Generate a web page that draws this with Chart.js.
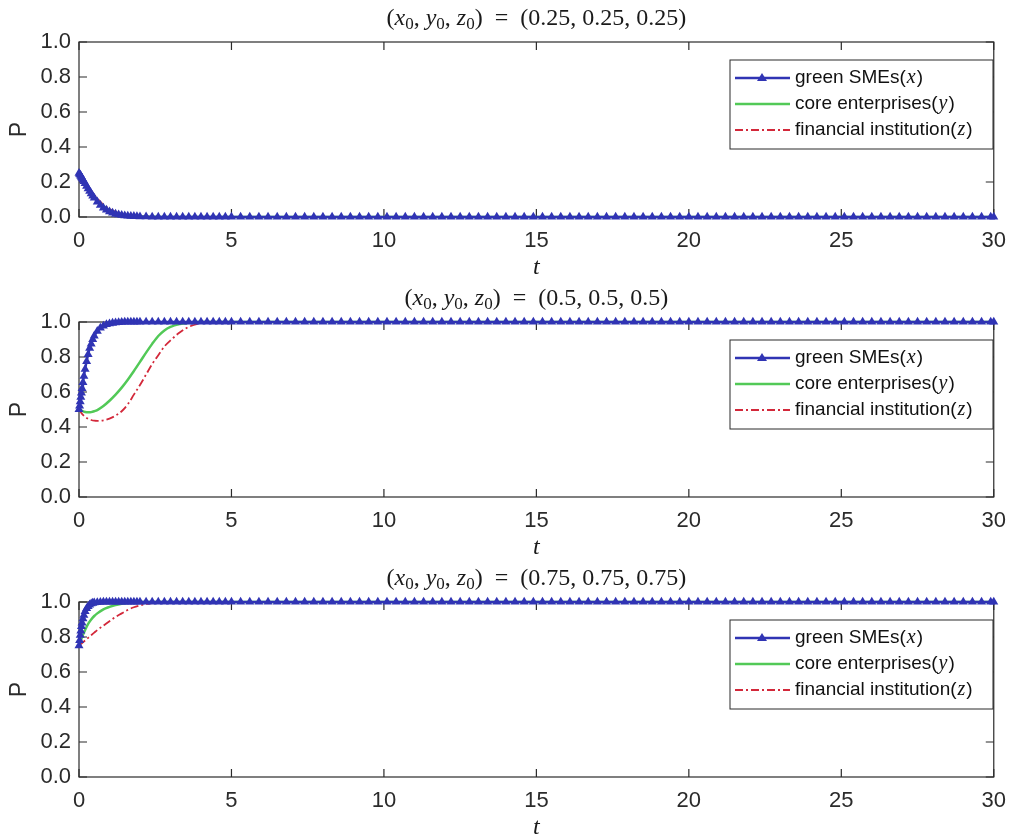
<!DOCTYPE html>
<html>
<head>
<title>Evolution paths</title>
<script src="https://cdn.jsdelivr.net/npm/chart.js@4.4.0/dist/chart.umd.min.js"></script>
<style>
    body { margin: 0; background: #fff; width: 1017px; height: 839px; overflow: hidden; position: relative; }
    canvas { position: absolute; left: 0; }
</style>
</head>
<body>
<canvas id="p1" width="1017" height="280" style="top:0px"></canvas>
<canvas id="p2" width="1017" height="280" style="top:280px"></canvas>
<canvas id="p3" width="1017" height="280" style="top:560px"></canvas>

<script>
    // series names and initial points of the three panels
    var seriesNames = ['green SMEs(x)', 'core enterprises(y)', 'financial institution(z)'];
    var startValues = ['0.25', '0.5', '0.75'];
    var xTickValues = [0, 5, 10, 15, 20, 25, 30];
    var yTickValues = [0, 0.2, 0.4, 0.6, 0.8, 1.0];

    // time steps of the solver output (markers of the x series)
    var tBlue = [
        0, 0.02, 0.04, 0.06, 0.08, 0.1, 0.13, 0.16, 0.2, 0.25,
        0.3, 0.35, 0.4, 0.45, 0.5, 0.6, 0.7, 0.8, 0.9, 1.0,
        1.1, 1.2, 1.3, 1.4, 1.5, 1.6, 1.7, 1.8, 1.9, 2.0,
        2.2, 2.4, 2.6, 2.8, 3.0, 3.2, 3.4, 3.6, 3.8, 4.0,
        4.2, 4.4, 4.6, 4.8, 5.0,
        5.3, 5.6, 5.9, 6.2, 6.5, 6.8, 7.1, 7.4, 7.7, 8.0,
        8.3, 8.6, 8.9, 9.2, 9.5, 9.8, 10.1, 10.4, 10.7, 11.0,
        11.3, 11.6, 11.9, 12.2, 12.5, 12.8, 13.1, 13.4, 13.7, 14.0,
        14.3, 14.6, 14.9, 15.2, 15.5, 15.8, 16.1, 16.4, 16.7, 17.0,
        17.3, 17.6, 17.9, 18.2, 18.5, 18.8, 19.1, 19.4, 19.7, 20.0,
        20.3, 20.6, 20.9, 21.2, 21.5, 21.8, 22.1, 22.4, 22.7, 23.0,
        23.3, 23.6, 23.9, 24.2, 24.5, 24.8, 25.1, 25.4, 25.7, 26.0,
        26.3, 26.6, 26.9, 27.2, 27.5, 27.8, 28.1, 28.4, 28.7, 29.0,
        29.3, 29.6, 29.9, 30.0
    ];

    // x (green SMEs) in the three panels
    var blueA = [
        0.25, 0.245, 0.24, 0.234, 0.228, 0.222, 0.213, 0.204, 0.192, 0.177,
        0.162, 0.148, 0.134, 0.121, 0.109, 0.087, 0.068, 0.052, 0.040, 0.030,
        0.023, 0.017, 0.013, 0.010, 0.008, 0.006, 0.005, 0.004, 0.003, 0.002,
        0.0015, 0.001, 0.001, 0.0005, 0.0005, 0, 0, 0, 0, 0,
        0, 0, 0, 0, 0,
        0, 0, 0, 0, 0, 0, 0, 0, 0, 0,
        0, 0, 0, 0, 0, 0, 0, 0, 0, 0,
        0, 0, 0, 0, 0, 0, 0, 0, 0, 0,
        0, 0, 0, 0, 0, 0, 0, 0, 0, 0,
        0, 0, 0, 0, 0, 0, 0, 0, 0, 0,
        0, 0, 0, 0, 0, 0, 0, 0, 0, 0,
        0, 0, 0, 0, 0, 0, 0, 0, 0, 0,
        0, 0, 0, 0, 0, 0, 0, 0, 0, 0,
        0, 0, 0, 0
    ];
    var blueB = [
        0.5, 0.52, 0.545, 0.57, 0.595, 0.62, 0.655, 0.69, 0.73, 0.775,
        0.815, 0.85, 0.875, 0.9, 0.92, 0.948, 0.966, 0.978, 0.986, 0.991,
        0.994, 0.996, 0.998, 0.999, 1, 1, 1, 1, 1, 1,
        1, 1, 1, 1, 1, 1, 1, 1, 1, 1,
        1, 1, 1, 1, 1,
        1, 1, 1, 1, 1, 1, 1, 1, 1, 1,
        1, 1, 1, 1, 1, 1, 1, 1, 1, 1,
        1, 1, 1, 1, 1, 1, 1, 1, 1, 1,
        1, 1, 1, 1, 1, 1, 1, 1, 1, 1,
        1, 1, 1, 1, 1, 1, 1, 1, 1, 1,
        1, 1, 1, 1, 1, 1, 1, 1, 1, 1,
        1, 1, 1, 1, 1, 1, 1, 1, 1, 1,
        1, 1, 1, 1, 1, 1, 1, 1, 1, 1,
        1, 1, 1, 1
    ];
    var blueC = [
        0.75, 0.78, 0.81, 0.835, 0.86, 0.88, 0.905, 0.925, 0.946, 0.963,
        0.975, 0.984, 0.99, 0.994, 0.996, 0.998, 0.999, 1, 1, 1,
        1, 1, 1, 1, 1, 1, 1, 1, 1, 1,
        1, 1, 1, 1, 1, 1, 1, 1, 1, 1,
        1, 1, 1, 1, 1,
        1, 1, 1, 1, 1, 1, 1, 1, 1, 1,
        1, 1, 1, 1, 1, 1, 1, 1, 1, 1,
        1, 1, 1, 1, 1, 1, 1, 1, 1, 1,
        1, 1, 1, 1, 1, 1, 1, 1, 1, 1,
        1, 1, 1, 1, 1, 1, 1, 1, 1, 1,
        1, 1, 1, 1, 1, 1, 1, 1, 1, 1,
        1, 1, 1, 1, 1, 1, 1, 1, 1, 1,
        1, 1, 1, 1, 1, 1, 1, 1, 1, 1,
        1, 1, 1, 1
    ];

    // time points for y and z lines
    var tLine = [0, 0.1, 0.2, 0.3, 0.4, 0.5, 0.6, 0.8, 1.0, 1.2, 1.4, 1.6, 1.8, 2.0,
        2.2, 2.4, 2.6, 2.8, 3.0, 3.3, 3.6, 3.9, 4.2, 4.5, 5.0, 30];

    // y (core enterprises)
    var greenA = [0.25, 0.225, 0.196, 0.168, 0.142, 0.118, 0.097, 0.063, 0.040, 0.025, 0.015, 0.009, 0.006, 0.004,
        0.002, 0.001, 0.001, 0, 0, 0, 0, 0, 0, 0, 0, 0];
    var greenB = [0.5, 0.492, 0.486, 0.484, 0.485, 0.49, 0.497, 0.52, 0.55, 0.585, 0.625, 0.67, 0.72, 0.772,
        0.825, 0.875, 0.92, 0.952, 0.972, 0.988, 0.996, 1, 1, 1, 1, 1];
    var greenC = [0.75, 0.80, 0.84, 0.875, 0.90, 0.92, 0.935, 0.958, 0.972, 0.983, 0.99, 0.995, 0.998, 1,
        1, 1, 1, 1, 1, 1, 1, 1, 1, 1, 1, 1];

    // z (financial institution)
    var redA = [0.25, 0.228, 0.202, 0.175, 0.150, 0.127, 0.106, 0.071, 0.046, 0.029, 0.018, 0.011, 0.007, 0.004,
        0.003, 0.002, 0.001, 0.001, 0, 0, 0, 0, 0, 0, 0, 0];
    var redB = [0.5, 0.475, 0.458, 0.447, 0.44, 0.436, 0.435, 0.438, 0.448, 0.465, 0.49, 0.53, 0.585, 0.64,
        0.70, 0.76, 0.81, 0.86, 0.895, 0.94, 0.972, 0.99, 0.997, 1, 1, 1];
    var redC = [0.75, 0.765, 0.78, 0.795, 0.81, 0.825, 0.84, 0.865, 0.89, 0.915, 0.935, 0.955, 0.97, 0.98,
        0.988, 0.993, 0.996, 0.998, 1, 1, 1, 1, 1, 1, 1, 1];

    var blueSets = [blueA, blueB, blueC];
    var greenSets = [greenA, greenB, greenC];
    var redSets = [redA, redB, redC];

    var AXIS = '#2b2b2b';
    var SANS = '"Liberation Sans", Arial, sans-serif';
    var SERIF = '"Liberation Serif", "Times New Roman", serif';

    function toPoints(ts, vs) {
        return ts.map(function (t, i) { return { x: t, y: vs[i] }; });
    }

    // draws a row of text pieces: r = roman, i = italic, s = subscript
    function mathFont(kind, size) {
        if (kind === 'i') return 'italic ' + size + 'px ' + SERIF;
        if (kind === 's') return Math.round(size * 0.7) + 'px ' + SERIF;
        return size + 'px ' + SERIF;
    }
    function drawMath(ctx, parts, cx, y, size) {
        var w = 0;
        parts.forEach(function (p) { ctx.font = mathFont(p[1], size); w += ctx.measureText(p[0]).width; });
        var x = cx - w / 2;
        parts.forEach(function (p) {
            ctx.font = mathFont(p[1], size);
            ctx.fillText(p[0], x, y + (p[1] === 's' ? size * 0.25 : 0));
            x += ctx.measureText(p[0]).width;
        });
    }

    // box, inward ticks, axis titles and panel title
    var frame = {
        id: 'frame',
        beforeDatasetsDraw: function (chart) {
            var ctx = chart.ctx, a = chart.chartArea, sx = chart.scales.x, sy = chart.scales.y;
            ctx.save();
            ctx.strokeStyle = AXIS;
            ctx.lineWidth = 1.2;
            ctx.strokeRect(a.left, a.top, a.right - a.left, a.bottom - a.top);
            ctx.beginPath();
            sx.ticks.forEach(function (t) {
                var px = sx.getPixelForValue(t.value);
                ctx.moveTo(px, a.bottom); ctx.lineTo(px, a.bottom - 8);
                ctx.moveTo(px, a.top); ctx.lineTo(px, a.top + 8);
            });
            sy.ticks.forEach(function (t) {
                var py = sy.getPixelForValue(t.value);
                ctx.moveTo(a.left, py); ctx.lineTo(a.left + 8, py);
                ctx.moveTo(a.right, py); ctx.lineTo(a.right - 8, py);
            });
            ctx.stroke();

            ctx.fillStyle = '#1a1a1a';
            ctx.textAlign = 'left';
            ctx.textBaseline = 'middle';
            var v = chart.options.plugins.frame.start;
            drawMath(ctx, [['(', 'r'], ['x', 'i'], ['0', 's'], [', ', 'r'], ['y', 'i'], ['0', 's'], [', ', 'r'],
                ['z', 'i'], ['0', 's'], [')  =  (' + v + ', ' + v + ', ' + v + ')', 'r']],
                (a.left + a.right) / 2, a.top - 23, 24);

            ctx.textAlign = 'center';
            ctx.font = 'italic 24px ' + SERIF;
            ctx.fillText('t', (a.left + a.right) / 2, a.bottom + 51);

            ctx.save();
            ctx.translate(20, (a.top + a.bottom) / 2);
            ctx.rotate(-Math.PI / 2);
            ctx.fillStyle = AXIS;
            ctx.font = '23px ' + SANS;
            ctx.fillText('P', 0, 0);
            ctx.restore();
            ctx.restore();
        }
    };

    // legend box inside the plot, upper right
    var boxLegend = {
        id: 'boxLegend',
        afterDraw: function (chart) {
            var ctx = chart.ctx, a = chart.chartArea;
            var bx = a.left + 651, by = a.top + 18, bw = 263, bh = 89;
            ctx.save();
            ctx.fillStyle = '#fff';
            ctx.fillRect(bx, by, bw, bh);
            ctx.strokeStyle = AXIS;
            ctx.lineWidth = 1;
            ctx.strokeRect(bx, by, bw, bh);
            chart.data.datasets.forEach(function (ds, i) {
                var y = by + 18 + i * 26;
                ctx.strokeStyle = ds.borderColor;
                ctx.lineWidth = ds.borderWidth;
                ctx.setLineDash(ds.borderDash || []);
                ctx.beginPath();
                ctx.moveTo(bx + 5, y); ctx.lineTo(bx + 60, y);
                ctx.stroke();
                ctx.setLineDash([]);
                if (ds.pointStyle === 'triangle') {
                    ctx.fillStyle = ds.borderColor;
                    ctx.beginPath();
                    ctx.moveTo(bx + 32, y - 5); ctx.lineTo(bx + 37, y + 3); ctx.lineTo(bx + 27, y + 3);
                    ctx.closePath();
                    ctx.fill();
                }
                var m = ds.label.match(/^(.*)\((\w)\)$/);
                var x = bx + 65;
                ctx.fillStyle = '#111';
                ctx.textBaseline = 'middle';
                ctx.textAlign = 'left';
                ctx.font = '19px ' + SANS;
                ctx.fillText(m[1] + '(', x, y);
                x += ctx.measureText(m[1] + '(').width;
                ctx.font = 'italic 20px ' + SERIF;
                ctx.fillText(m[2], x + 1, y);
                x += ctx.measureText(m[2]).width + 2;
                ctx.font = '19px ' + SANS;
                ctx.fillText(')', x, y);
            });
            ctx.restore();
        }
    };

    function makePanel(id, k) {
        var ctx = document.getElementById(id).getContext('2d');
        return new Chart(ctx, {
            type: 'line',
            data: {
                datasets: [{
                    label: seriesNames[0],
                    data: toPoints(tBlue, blueSets[k]),
                    borderColor: '#3034b4',
                    backgroundColor: '#3034b4',
                    borderWidth: 2.4,
                    pointStyle: 'triangle',
                    pointRadius: 5.2,
                    pointBorderWidth: 0,
                    clip: false
                }, {
                    label: seriesNames[1],
                    data: toPoints(tLine, greenSets[k]),
                    borderColor: '#52c957',
                    borderWidth: 2.5,
                    pointRadius: 0,
                    cubicInterpolationMode: 'monotone',
                    clip: false
                }, {
                    label: seriesNames[2],
                    data: toPoints(tLine, redSets[k]),
                    borderColor: '#d3283a',
                    borderWidth: 1.8,
                    borderDash: [8, 3, 2, 3],
                    pointRadius: 0,
                    cubicInterpolationMode: 'monotone',
                    clip: false
                }]
            },
            options: {
                responsive: false,
                animation: false,
                events: [],
                layout: { padding: { top: 42, right: 13, left: 0, bottom: 0 } },
                scales: {
                    x: {
                        type: 'linear',
                        min: 0,
                        max: 30,
                        grid: { display: false, drawTicks: false },
                        border: { display: false },
                        afterBuildTicks: function (s) { s.ticks = xTickValues.map(function (v) { return { value: v }; }); },
                        afterFit: function (s) { s.height = 63; },
                        ticks: { color: AXIS, font: { family: SANS, size: 22 }, padding: 11, maxRotation: 0, autoSkip: false }
                    },
                    y: {
                        min: 0,
                        max: 1,
                        grid: { display: false, drawTicks: false },
                        border: { display: false },
                        afterBuildTicks: function (s) { s.ticks = yTickValues.map(function (v) { return { value: v }; }); },
                        afterFit: function (s) { s.width = 79; },
                        ticks: {
                            color: AXIS, font: { family: SANS, size: 22 }, padding: 8,
                            callback: function (v) { return Number(v).toFixed(1); }
                        }
                    }
                },
                plugins: {
                    legend: { display: false },
                    tooltip: { enabled: false },
                    frame: { start: startValues[k] }
                }
            },
            plugins: [frame, boxLegend]
        });
    }

    makePanel('p1', 0);
    makePanel('p2', 1);
    makePanel('p3', 2);
</script>
</body>
</html>
